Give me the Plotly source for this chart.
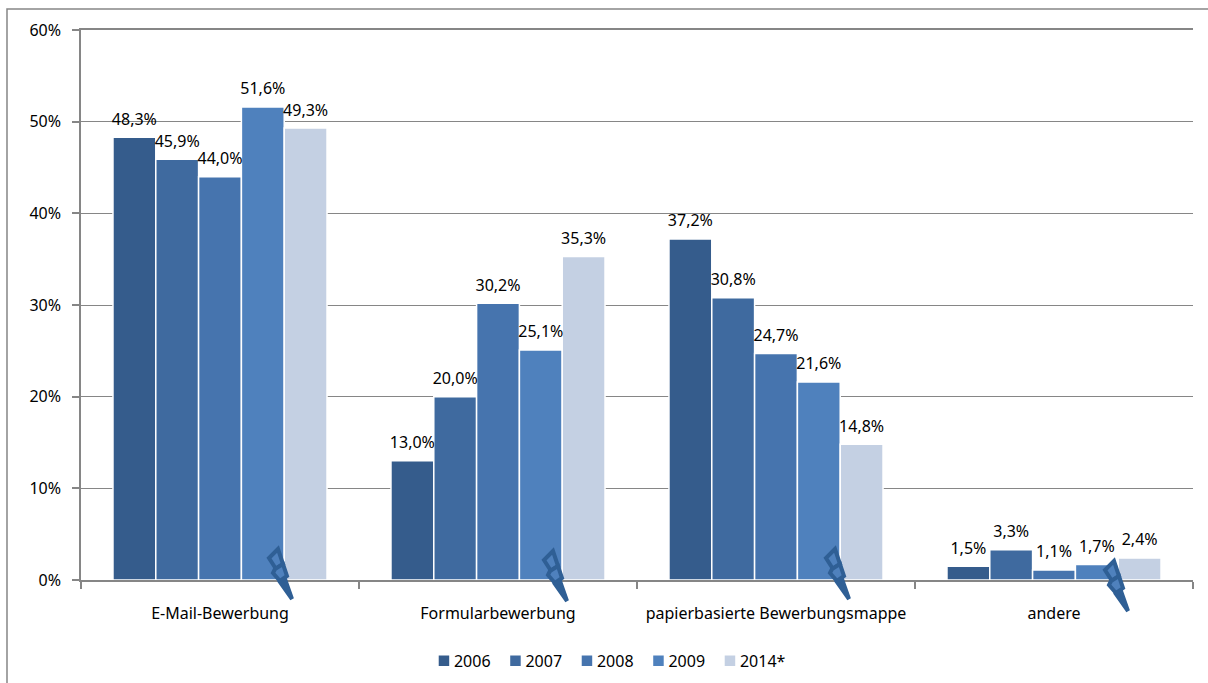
import plotly.graph_objects as go

categories = ["E-Mail-Bewerbung", "Formularbewerbung", "papierbasierte Bewerbungsmappe", "andere"]
years = ["2006", "2007", "2008", "2009", "2014*"]
v2006 = [48.3, 13.0, 37.2, 1.5]
v2007 = [45.9, 20.0, 30.8, 3.3]
v2008 = [44.0, 30.2, 24.7, 1.1]
v2009 = [51.6, 25.1, 21.6, 1.7]
v2014 = [49.3, 35.3, 14.8, 2.4]
series = [v2006, v2007, v2008, v2009, v2014]
colors = ["#355C8C", "#3F6A9F", "#4674AE", "#4F81BD", "#C4D0E3"]
FONT = "Noto Sans"
GREY = "#868686"
L, R, T, B = 81, 1193, 30, 580
LABEL_LIFT = 0.5  # data labels float a little further above the bars

fig = go.Figure()
for name, vals, col in zip(years, series, colors):
    fig.add_bar(x=categories, y=vals, name=name, marker=dict(color=col, line=dict(color="white", width=1.5)))
for name, vals in zip(years, series):
    fig.add_bar(x=categories, y=vals, name=name, yaxis="y2", showlegend=False,
                marker=dict(color="rgba(0,0,0,0)", line=dict(width=0)),
                texttemplate="%{y:.1f}%", textposition="outside", cliponaxis=False, constraintext="none",
                textfont=dict(size=16, color="black", family=FONT))

def px(x, y):
    return f"{(x-L)/(R-L):.5f},{(B-y)/(B-T):.5f}"

def poly(x0, y0, pts, close=True):
    return "M" + " L".join(px(x0+a, y0+b) for a, b in pts) + (" Z" if close else "")

bolt_tops = [(278, 549), (553, 551), (835, 549), (1114, 561)]
shapes = [
    dict(type="path", xref="paper", yref="paper", line=dict(color=GREY, width=1.5),
         path="M" + " L".join(px(a, b) for a, b in [(7, 683), (7, 9), (1208, 9)])),
]
for x0, y0 in bolt_tops:
    for pts, fill in [
        ([(0, 0), (-9, 9), (-2, 20), (5, 15)], "#4F81BD"),
        ([(-3, 20), (-5, 24), (2, 32), (9, 27), (5, 15)], "#4F81BD"),
        ([(2, 33), (14, 50), (7, 30)], "#2F5F95"),
    ]:
        shapes.append(dict(type="path", xref="paper", yref="paper", path=poly(x0, y0, pts),
                           fillcolor=fill, line=dict(color="#2F5F95", width=4)))

fig.update_layout(
    width=1208, height=683, margin=dict(l=L, r=1208-R, t=T, b=683-B, autoexpand=False),
    paper_bgcolor="white", plot_bgcolor="white", separators=", ",
    barmode="group", bargap=0.23, bargroupgap=0.0,
    font=dict(family=FONT, size=16, color="black"), shapes=shapes,
    showlegend=True,
    legend=dict(orientation="h", x=0.4604, xanchor="center", y=-0.116, yanchor="top",
                font=dict(size=16, family=FONT), entrywidth=26.5, entrywidthmode="pixels", traceorder="normal"),
    xaxis=dict(type="category", tickson="boundaries", ticks="outside", ticklen=7, tickcolor=GREY, tickwidth=1.5,
               showline=True, linecolor=GREY, linewidth=1.5, showgrid=False, mirror=True,
               ticklabelstandoff=18, tickfont=dict(size=16, family=FONT), automargin=False),
    yaxis=dict(range=[0, 60], dtick=10, ticksuffix="%", ticks="outside", ticklen=7, tickcolor=GREY, tickwidth=1.5,
               showline=True, linecolor=GREY, linewidth=1.5, gridcolor=GREY, gridwidth=1, zeroline=False,
               ticklabelstandoff=8, tickfont=dict(size=16, family=FONT), automargin=False),
    yaxis2=dict(range=[-LABEL_LIFT, 60-LABEL_LIFT], overlaying="y", visible=False),
)
post = """
document.body.style.margin='0';document.body.style.overflow='hidden';
document.querySelectorAll('.legend .scrollbox').forEach(e=>e.removeAttribute('clip-path'));
document.querySelectorAll('.legend').forEach(e=>e.removeAttribute('clip-path'));
document.querySelectorAll('.legend .legendsymbols').forEach(e=>e.setAttribute('transform','translate(10,0)'));
"""
fig.write_html("out.html", post_script=post, config=dict(displayModeBar=False))
